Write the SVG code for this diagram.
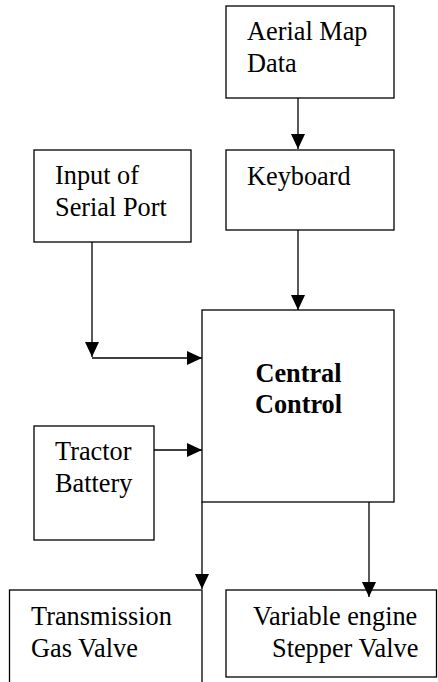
<svg xmlns="http://www.w3.org/2000/svg" width="438" height="682" viewBox="0 0 438 682">
<style>
.box{fill:#fff;stroke:#000;stroke-width:1.3}
.t{font-family:'Liberation Serif',serif;font-size:26.3px;fill:#000}
.b{font-weight:bold}
.c{fill:none;stroke:#000;stroke-width:1.3}
</style>
<defs>
<marker id="ah" viewBox="0 0 15 14" refX="15" refY="7" markerWidth="15" markerHeight="14" markerUnits="userSpaceOnUse" orient="auto">
<path d="M0 0 L15 7 L0 14 z" fill="#000"/>
</marker>
</defs>
<rect width="438" height="682" fill="#fff"/>
<g id="aerial">
<rect class="box" x="226" y="6" width="168" height="92"/>
<text class="t" font-family="Liberation Serif" x="247" y="40">Aerial Map</text>
<text class="t" font-family="Liberation Serif" x="247" y="72">Data</text>
</g>
<g id="keyboard">
<rect class="box" x="226" y="150" width="168" height="80"/>
<text class="t" font-family="Liberation Serif" x="247" y="185">Keyboard</text>
</g>
<g id="serial">
<rect class="box" x="34" y="150" width="157" height="92"/>
<text class="t" font-family="Liberation Serif" x="55" y="184">Input of</text>
<text class="t" font-family="Liberation Serif" x="55" y="216">Serial Port</text>
</g>
<g id="central">
<rect class="box" x="202" y="310" width="192" height="192"/>
<text class="t b" font-family="Liberation Serif" x="298.5" y="382" text-anchor="middle">Central</text>
<text class="t b" font-family="Liberation Serif" x="298.5" y="413" text-anchor="middle">Control</text>
</g>
<g id="battery">
<rect class="box" x="34" y="426" width="120" height="114"/>
<text class="t" font-family="Liberation Serif" x="55" y="460">Tractor</text>
<text class="t" font-family="Liberation Serif" x="55" y="492">Battery</text>
</g>
<g id="transmission">
<rect class="box" x="9.5" y="590" width="192.5" height="100"/>
<text class="t" font-family="Liberation Serif" x="31" y="625">Transmission</text>
<text class="t" font-family="Liberation Serif" x="31" y="657">Gas Valve</text>
</g>
<g id="stepper">
<rect class="box" x="226" y="590" width="210.5" height="87"/>
<text class="t" font-family="Liberation Serif" x="253" y="625">Variable engine</text>
<text class="t" font-family="Liberation Serif" x="272" y="657">Stepper Valve</text>
</g>
<g id="connectors">
<path class="c" d="M298 98 V149" marker-end="url(#ah)"/>
<path class="c" d="M298 230 V310" marker-end="url(#ah)"/>
<path class="c" d="M92 242 V357" marker-end="url(#ah)"/>
<path class="c" d="M92 358 H202" marker-end="url(#ah)"/>
<path class="c" d="M154 450 H202" marker-end="url(#ah)"/>
<path class="c" d="M202 502 V589" marker-end="url(#ah)"/>
<path class="c" d="M369 502 V597" marker-end="url(#ah)"/>
</g>
</svg>
